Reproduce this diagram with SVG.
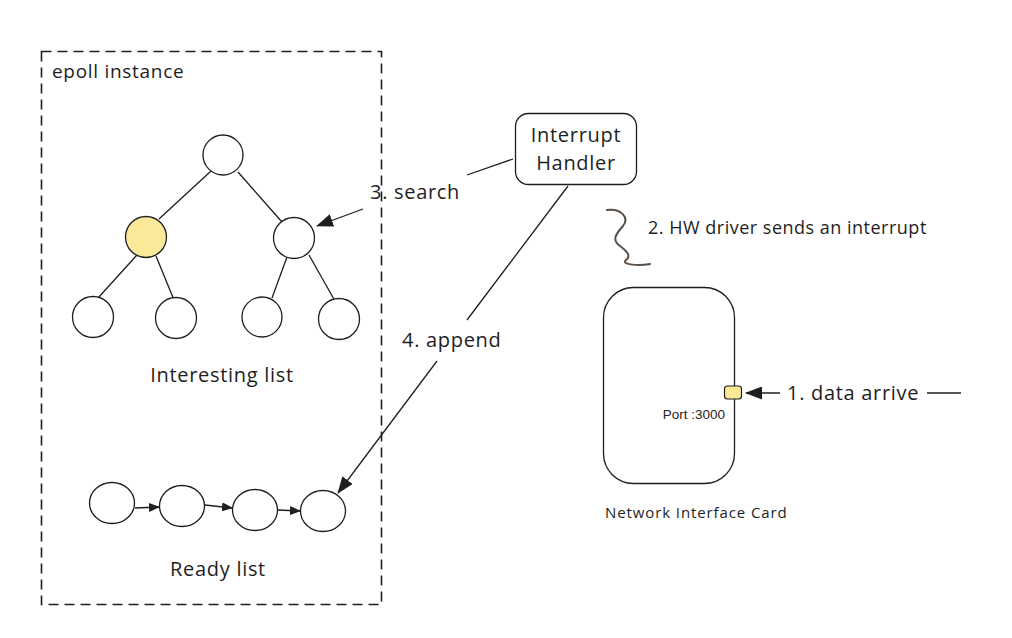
<svg xmlns="http://www.w3.org/2000/svg" width="1012" height="638" viewBox="0 0 1012 638">
<defs>
<marker id="arrL" viewBox="0 0 17 13" refX="16" refY="6.5" markerUnits="userSpaceOnUse" markerWidth="17" markerHeight="13" orient="auto">
<path d="M0,0 L17,6.5 L0,13 Z" fill="#1e1e1e"/>
</marker>
<marker id="arrS" viewBox="0 0 11 9" refX="10" refY="4.5" markerUnits="userSpaceOnUse" markerWidth="11" markerHeight="9" orient="auto">
<path d="M0,0 L11,4.5 L0,9 Z" fill="#1e1e1e"/>
</marker>
</defs>
<style>
.t{font-family:"Open Sans","Liberation Sans",sans-serif;fill:#1e1e1e;font-weight:500;}
.lbl{font-size:20px;letter-spacing:0.7px;}
.nd{fill:#ffffff;stroke:#1e1e1e;stroke-width:1.3;}
.hl{fill:#fbe99a;}
.ln{stroke:#1e1e1e;stroke-width:1.3;fill:none;}
</style>
<rect width="1012" height="638" fill="#ffffff"/>

<g id="epoll">
<rect x="41.5" y="51.5" width="340" height="553" fill="none" stroke="#1e1e1e" stroke-width="1.6" stroke-dasharray="10,6"/>
<text class="t" x="52" y="78" style="font-size:19px;letter-spacing:0.7px">epoll instance</text>
</g>

<g id="tree-edges">
<line class="ln" x1="211" y1="171" x2="159" y2="219"/>
<line class="ln" x1="238" y1="172" x2="282" y2="222"/>
<line class="ln" x1="137" y1="255" x2="98" y2="298"/>
<line class="ln" x1="156" y1="256" x2="174" y2="300"/>
<line class="ln" x1="287" y1="257" x2="272" y2="298"/>
<line class="ln" x1="309" y1="255" x2="335" y2="301"/>
</g>
<g id="tree-root"><circle class="nd" cx="223" cy="155" r="20"/></g>
<g id="tree-left"><circle class="nd hl" cx="146" cy="237" r="20.5"/></g>
<g id="tree-right"><circle class="nd" cx="294" cy="238" r="20.5"/></g>
<g id="tree-ll"><circle class="nd" cx="93" cy="317" r="20.5"/></g>
<g id="tree-lr"><circle class="nd" cx="176" cy="318" r="20.5"/></g>
<g id="tree-rl"><circle class="nd" cx="262" cy="317" r="20"/></g>
<g id="tree-rr"><circle class="nd" cx="339" cy="319" r="20.5"/></g>
<g id="interesting-label"><text class="t lbl" x="222" y="382" text-anchor="middle">Interesting list</text></g>

<g id="ready-1"><ellipse class="nd" cx="112" cy="503" rx="22.5" ry="20.5"/></g>
<g id="ready-2"><ellipse class="nd" cx="182" cy="506" rx="22.5" ry="20.5"/></g>
<g id="ready-3"><ellipse class="nd" cx="255" cy="510" rx="22.5" ry="20.5"/></g>
<g id="ready-4"><ellipse class="nd" cx="323" cy="511" rx="22.5" ry="20.5"/></g>
<g id="ready-label"><text class="t lbl" x="218" y="576" text-anchor="middle">Ready list</text></g>

<g id="interrupt-handler">
<rect x="515.5" y="113.5" width="121" height="71" rx="13" fill="#ffffff" stroke="#1e1e1e" stroke-width="1.3"/>
<text class="t lbl" x="576" y="142" text-anchor="middle">Interrupt</text>
<text class="t lbl" x="576" y="170" text-anchor="middle">Handler</text>
</g>

<g id="nic">
<rect x="603.5" y="287.5" width="131" height="196" rx="30" fill="#ffffff" stroke="#1e1e1e" stroke-width="1.3"/>
<rect x="724.5" y="386" width="17" height="13" rx="3" fill="#fbe99a" stroke="#1e1e1e" stroke-width="1.2"/>
<text x="725" y="419" text-anchor="end" style="font-family:'Liberation Sans',Arial,sans-serif;font-size:13.5px;fill:#1e1e1e">Port :3000</text>
<text class="t" x="605" y="518" style="font-size:15px;letter-spacing:0.9px">Network Interface Card</text>
</g>

<g id="connectors">
<line class="ln" x1="513" y1="159" x2="467" y2="175"/>
<line class="ln" x1="363" y1="209" x2="317" y2="226" marker-end="url(#arrL)"/>
<text class="t lbl" x="370" y="199">3. search</text>

<line class="ln" x1="568" y1="186" x2="467" y2="320"/>
<line class="ln" x1="437" y1="361" x2="338" y2="493" marker-end="url(#arrL)"/>
<text class="t lbl" x="402" y="347">4. append</text>

<line class="ln" x1="135" y1="508" x2="159" y2="507" marker-end="url(#arrS)"/>
<line class="ln" x1="205" y1="505" x2="232" y2="508" marker-end="url(#arrS)"/>
<line class="ln" x1="278" y1="510" x2="300" y2="511" marker-end="url(#arrS)"/>

<line class="ln" x1="780" y1="393" x2="746" y2="393" marker-end="url(#arrL)"/>
<text class="t lbl" x="787" y="400">1. data arrive</text>
<line class="ln" x1="927" y1="393" x2="961" y2="393"/>

<path d="M607,210 C620,208 630,217 623,226 C615,235 612,240 620,246 C628,252 631,256 626,260 C620,265 640,266 650,264" fill="none" stroke="#5a5047" stroke-width="2" stroke-linecap="round"/>
<text class="t" x="648" y="234" style="font-size:18px;letter-spacing:0.5px">2. HW driver sends an interrupt</text>
</g>
</svg>
